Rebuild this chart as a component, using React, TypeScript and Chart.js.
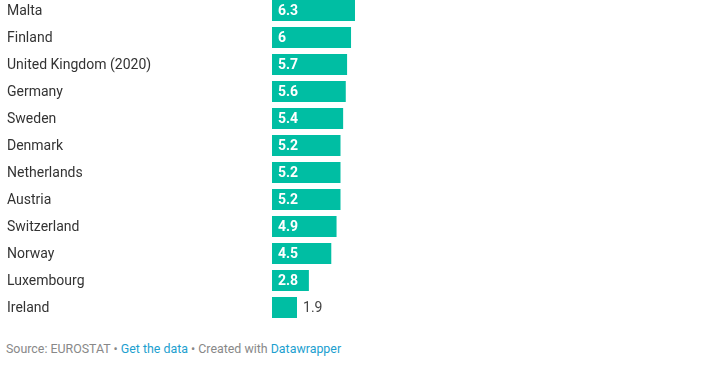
import React, { useEffect, useRef } from "react";
import { Chart, registerables } from "chart.js";

Chart.register(...registerables);

const countries = [
  "Malta",
  "Finland",
  "United Kingdom (2020)",
  "Germany",
  "Sweden",
  "Denmark",
  "Netherlands",
  "Austria",
  "Switzerland",
  "Norway",
  "Luxembourg",
  "Ireland",
];
const values = [6.3, 6, 5.7, 5.6, 5.4, 5.2, 5.2, 5.2, 4.9, 4.5, 2.8, 1.9];
const xMax = 33.4;
const BAR = "#00bea3";

const labelsPlugin = {
  id: "labelsPlugin",
  afterDatasetsDraw(chart: any) {
    const ctx = chart.ctx;
    const meta = chart.getDatasetMeta(0);
    ctx.save();
    ctx.textBaseline = "middle";
    ctx.textAlign = "left";
    meta.data.forEach((bar: any, i: number) => {
      ctx.font = "14px Roboto";
      ctx.fillStyle = "#333333";
      ctx.fillText(countries[i], 7, bar.y + 0.5);
      const txt = String(values[i]);
      ctx.font = "bold 14px Roboto";
      const w = ctx.measureText(txt).width;
      const left = bar.base;
      const right = bar.x;
      if (right - left >= w + 12) {
        ctx.fillStyle = "#ffffff";
        ctx.fillText(txt, left + 6, bar.y + 0.5);
      } else {
        ctx.fillStyle = "#444444";
        ctx.font = "14px Roboto";
        ctx.fillText(txt, right + 6, bar.y + 0.5);
      }
    });
    ctx.restore();
  },
};

export default function App() {
  const ref = useRef<HTMLCanvasElement>(null);
  useEffect(() => {
    if (!ref.current) return;
    const chart = new Chart(ref.current, {
      type: "bar",
      data: {
        labels: countries,
        datasets: [
          {
            data: values,
            backgroundColor: BAR,
            barPercentage: 21 / 27,
            categoryPercentage: 1,
          },
        ],
      },
      options: {
        indexAxis: "y",
        animation: false,
        responsive: false,
        maintainAspectRatio: false,
        layout: { padding: { left: 272, right: 0, top: 0, bottom: 0 } },
        plugins: { legend: { display: false }, tooltip: { enabled: false } },
        scales: {
          x: { display: false, min: 0, max: xMax },
          y: { display: false },
        },
      },
      plugins: [labelsPlugin],
    });
    return () => chart.destroy();
  }, []);
  return (
    <div
      style={{
        position: "absolute",
        left: 0,
        top: 0,
        width: 712,
        height: 374,
        overflow: "hidden",
        background: "#fff",
      }}
    >
      <canvas
        ref={ref}
        width={712}
        height={324}
        style={{ position: "absolute", left: 0, top: -3, width: 712, height: 324 }}
      />
      <div
        style={{
          position: "absolute",
          left: 6,
          top: 341,
          fontFamily: "Roboto",
          fontSize: 12.4,
          lineHeight: "16px",
          color: "#888888",
          whiteSpace: "nowrap",
        }}
      >
        Source: EUROSTAT •{" "}
        <span style={{ color: "#1d9fcf" }}>Get the data</span> • Created with{" "}
        <span style={{ color: "#1d9fcf" }}>Datawrapper</span>
      </div>
    </div>
  );
}
